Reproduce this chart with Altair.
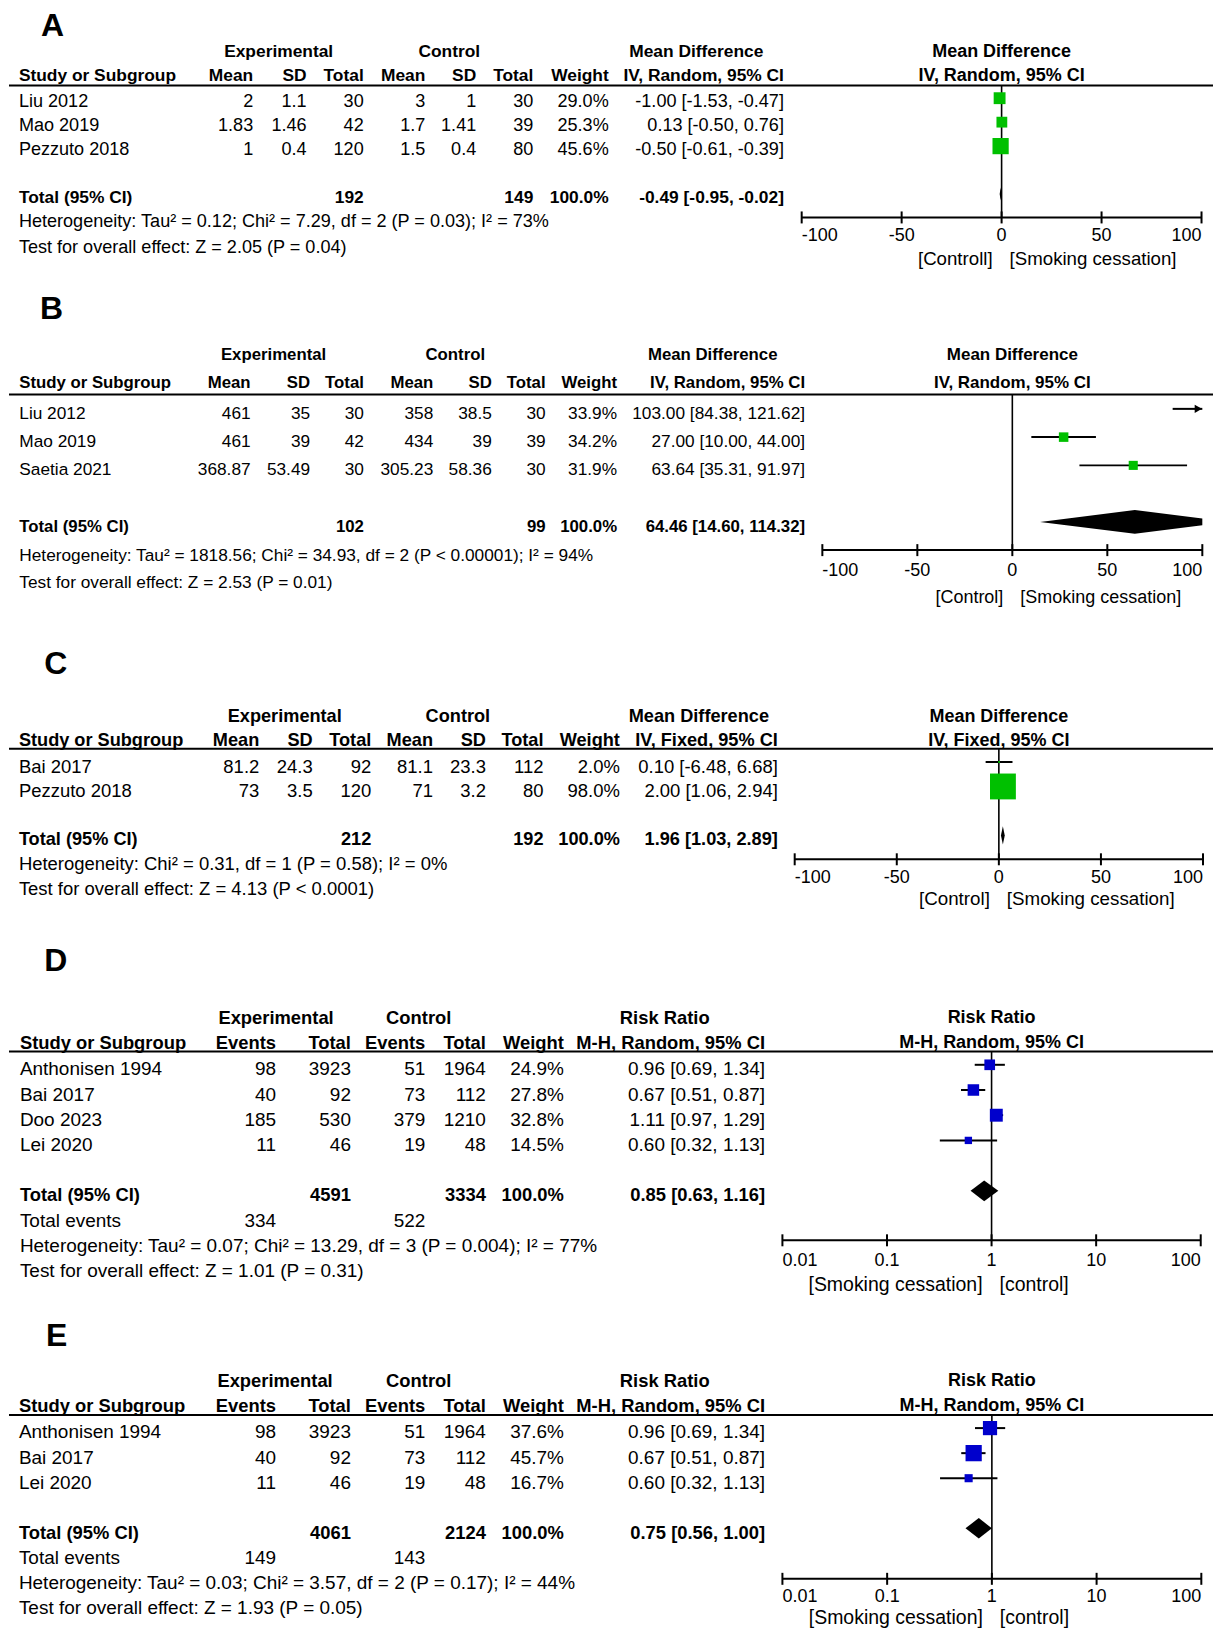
import altair as alt
import pandas as pd

W = 1206
SANS = "Liberation Sans, Arial, Helvetica, sans-serif"
GREEN = "#00C000"
BLUE = "#0000CC"

# ---------------- axis ticks ----------------
md_ticks = [-100, -50, 0, 50, 100]
md_labels = ["-100", "-50", "0", "50", "100"]
rr_ticks = [0.01, 0.1, 1, 10, 100]
rr_labels = ["0.01", "0.1", "1", "10", "100"]

# ---------------- panel A ----------------
a_study = ["Liu 2012", "Mao 2019", "Pezzuto 2018"]
a_exp_mean = [2, 1.83, 1]
a_exp_sd = [1.1, 1.46, 0.4]
a_exp_n = [30, 42, 120]
a_ctl_mean = [3, 1.7, 1.5]
a_ctl_sd = [1, 1.41, 0.4]
a_ctl_n = [30, 39, 80]
a_weight = [29.0, 25.3, 45.6]
a_est = [-1.00, 0.13, -0.50]
a_lo = [-1.53, -0.50, -0.61]
a_hi = [-0.47, 0.76, -0.39]
a_total_n = [192, 149]
a_total_ci = [-0.49, -0.95, -0.02]
a_het = "Heterogeneity: Tau\u00b2 = 0.12; Chi\u00b2 = 7.29, df = 2 (P = 0.03); I\u00b2 = 73%"
a_test = "Test for overall effect: Z = 2.05 (P = 0.04)"
a_subs = ["[Controll]", "[Smoking cessation]"]

# ---------------- panel B ----------------
b_study = ["Liu 2012", "Mao 2019", "Saetia 2021"]
b_exp_mean = [461, 461, 368.87]
b_exp_sd = [35, 39, 53.49]
b_exp_n = [30, 42, 30]
b_ctl_mean = [358, 434, 305.23]
b_ctl_sd = [38.5, 39, 58.36]
b_ctl_n = [30, 39, 30]
b_weight = [33.9, 34.2, 31.9]
b_est = [103.00, 27.00, 63.64]
b_lo = [84.38, 10.00, 35.31]
b_hi = [121.62, 44.00, 91.97]
b_total_n = [102, 99]
b_total_ci = [64.46, 14.60, 114.32]
b_het = "Heterogeneity: Tau\u00b2 = 1818.56; Chi\u00b2 = 34.93, df = 2 (P < 0.00001); I\u00b2 = 94%"
b_test = "Test for overall effect: Z = 2.53 (P = 0.01)"
b_subs = ["[Control]", "[Smoking cessation]"]

# ---------------- panel C ----------------
c_study = ["Bai 2017", "Pezzuto 2018"]
c_exp_mean = [81.2, 73]
c_exp_sd = [24.3, 3.5]
c_exp_n = [92, 120]
c_ctl_mean = [81.1, 71]
c_ctl_sd = [23.3, 3.2]
c_ctl_n = [112, 80]
c_weight = [2.0, 98.0]
c_est = [0.10, 2.00]
c_lo = [-6.48, 1.06]
c_hi = [6.68, 2.94]
c_total_n = [212, 192]
c_total_ci = [1.96, 1.03, 2.89]
c_het = "Heterogeneity: Chi\u00b2 = 0.31, df = 1 (P = 0.58); I\u00b2 = 0%"
c_test = "Test for overall effect: Z = 4.13 (P < 0.0001)"
c_subs = ["[Control]", "[Smoking cessation]"]

# ---------------- panel D ----------------
d_study = ["Anthonisen 1994", "Bai 2017", "Doo 2023", "Lei 2020"]
d_exp_events = [98, 40, 185, 11]
d_exp_n = [3923, 92, 530, 46]
d_ctl_events = [51, 73, 379, 19]
d_ctl_n = [1964, 112, 1210, 48]
d_weight = [24.9, 27.8, 32.8, 14.5]
d_est = [0.96, 0.67, 1.11, 0.60]
d_lo = [0.69, 0.51, 0.97, 0.32]
d_hi = [1.34, 0.87, 1.29, 1.13]
d_total_n = [4591, 3334]
d_total_events = [334, 522]
d_total_ci = [0.85, 0.63, 1.16]
d_het = "Heterogeneity: Tau\u00b2 = 0.07; Chi\u00b2 = 13.29, df = 3 (P = 0.004); I\u00b2 = 77%"
d_test = "Test for overall effect: Z = 1.01 (P = 0.31)"
d_subs = ["[Smoking cessation]", "[control]"]

# ---------------- panel E ----------------
e_study = ["Anthonisen 1994", "Bai 2017", "Lei 2020"]
e_exp_events = [98, 40, 11]
e_exp_n = [3923, 92, 46]
e_ctl_events = [51, 73, 19]
e_ctl_n = [1964, 112, 48]
e_weight = [37.6, 45.7, 16.7]
e_est = [0.96, 0.67, 0.60]
e_lo = [0.69, 0.51, 0.32]
e_hi = [1.34, 0.87, 1.13]
e_total_n = [4061, 2124]
e_total_events = [149, 143]
e_total_ci = [0.75, 0.56, 1.00]
e_het = "Heterogeneity: Tau\u00b2 = 0.03; Chi\u00b2 = 3.57, df = 2 (P = 0.17); I\u00b2 = 44%"
e_test = "Test for overall effect: Z = 1.93 (P = 0.05)"
e_subs = ["[Smoking cessation]", "[control]"]


def ci_text(e, l, h):
    return f"{e:.2f} [{l:.2f}, {h:.2f}]"


def T(entries, x, align, bold, size, ysc, baseline="middle"):
    df = pd.DataFrame(entries, columns=["row", "label"])
    df["label"] = df["label"].astype(str)
    return alt.Chart(df).mark_text(
        align=align, baseline=baseline, font=SANS, fontSize=size,
        fontWeight="bold" if bold else "normal", color="black"
    ).encode(x=alt.value(x), y=alt.Y("row:Q", scale=ysc, axis=None), text="label:N")


def build(letter, kind, study, cols, weight, est, lo, hi, tot_ci, het, test,
          effect_head, method_head, subs, color, lay):
    n = len(study)
    ysc = alt.Scale(domain=[lay["r_top"], lay["r_bot"]], range=[0, lay["H"]],
                    nice=False, zero=False)
    if kind == "md":
        ticks, tlabels, null = md_ticks, md_labels, 0
        xsc = alt.Scale(type="linear", domain=[ticks[0], ticks[-1]], range=lay["xr"],
                        nice=False, zero=False)
    else:
        ticks, tlabels, null = rr_ticks, rr_labels, 1
        xsc = alt.Scale(type="log", domain=[ticks[0], ticks[-1]], range=lay["xr"], nice=False)
    dmin, dmax = ticks[0], ticks[-1]
    fn, fb, fh = lay["fn"], lay["fb"], lay["fh"]
    r_tot = lay["r_total"]
    h1, h2 = lay["r_h"]
    Y = alt.Y("row:Q", scale=ysc, axis=None)

    def XS(f):
        return alt.X(f, scale=xsc, axis=None)

    L = []
    # panel letter
    L.append(T([(lay["r_letter"], letter)], lay["x_letter"], "left", True, 32, ysc,
               baseline="top"))
    # header rule
    L.append(alt.Chart(pd.DataFrame({"row": [lay["r_line"]]})).mark_rule(
        color="black", strokeWidth=2).encode(x=alt.value(0), x2=alt.value(W), y=Y))
    # group headings
    L.append(T([(h1, "Experimental")], lay["x_exp"], "center", True, fb, ysc))
    L.append(T([(h1, "Control")], lay["x_ctl"], "center", True, fb, ysc))
    L.append(T([(h1, effect_head)], lay["x_eff"], "center", True, fb, ysc))
    # study column
    left_norm = [(i, s) for i, s in enumerate(study)]
    if lay.get("r_te") is not None:
        left_norm.append((lay["r_te"], "Total events"))
    left_norm += [(lay["r_het"], het), (lay["r_test"], test)]
    L.append(T(left_norm, lay["x_study"], "left", False, fn, ysc))
    L.append(T([(h2, "Study or Subgroup"), (r_tot, "Total (95% CI)")],
               lay["x_study"], "left", True, fb, ysc))
    # numeric columns
    for (head, vals, tot, te), x in zip(cols, lay["cols_x"]):
        norm = [(i, str(v)) for i, v in enumerate(vals)]
        if te is not None:
            norm.append((lay["r_te"], str(te)))
        bold = [(h2, head)]
        if tot is not None:
            bold.append((r_tot, str(tot)))
        L.append(T(norm, x, "right", False, fn, ysc))
        L.append(T(bold, x, "right", True, fb, ysc))

    # ---------- forest plot ----------
    yo = lay["yoff"]
    fdf = pd.DataFrame({"row": list(range(n)), "est": est, "lo": lo, "hi": hi, "w": weight})
    # line of no effect
    L.append(alt.Chart(pd.DataFrame({"xv": [null], "r1": [lay["r_line"]], "r2": [lay["r_axis"]]}))
             .mark_rule(color="black", strokeWidth=1.6)
             .encode(x=XS("xv:Q"), y=alt.Y("r1:Q", scale=ysc, axis=None), y2="r2:Q"))
    # confidence intervals (clipped to the axis)
    L.append(alt.Chart(fdf).transform_calculate(
        lo_c=f"max(datum.lo, {dmin})", hi_c=f"min(datum.hi, {dmax})"
    ).mark_rule(color="black", strokeWidth=2, yOffset=yo).encode(
        x=XS("lo_c:Q"), x2="hi_c:Q", y=Y))
    # arrow for intervals beyond the axis
    L.append(alt.Chart(fdf).transform_filter(f"datum.hi > {dmax}").transform_calculate(
        tip=f"{dmax}"
    ).mark_point(shape="triangle-right", filled=True, color="black", opacity=1, size=70,
                 yOffset=yo, xOffset=-4).encode(x=XS("tip:Q"), y=Y))
    # squares
    L.append(alt.Chart(fdf).transform_filter(
        f"datum.est >= {dmin} && datum.est <= {dmax}"
    ).mark_square(color=color, opacity=1, yOffset=yo, strokeWidth=0).encode(
        x=XS("est:Q"), y=Y,
        size=alt.Size("w:Q", scale=alt.Scale(type="pow", exponent=1.38, domain=[0, 100],
                                             range=[0, lay["smax"]]), legend=None)))
    # pooled diamond
    e, l, h = tot_ci
    hh = lay["dh"]
    pts = [(l, r_tot, r_tot), (e, r_tot - hh, r_tot + hh)]
    if h > dmax:
        f = (h - dmax) / (h - e)
        pts.append((dmax, r_tot - hh * f, r_tot + hh * f))
    else:
        pts.append((h, r_tot, r_tot))
    ddf = pd.DataFrame(pts, columns=["xv", "y1", "y2"])
    L.append(alt.Chart(ddf).mark_area(color="black", opacity=1, yOffset=yo, y2Offset=yo,
                                      orient="vertical").encode(
        x=XS("xv:Q"), y=alt.Y("y1:Q", scale=ysc, axis=None), y2="y2:Q"))
    # axis line + ticks
    L.append(alt.Chart(pd.DataFrame({"a": [dmin], "b": [dmax], "row": [lay["r_axis"]]}))
             .mark_rule(color="black", strokeWidth=2).encode(x=XS("a:Q"), x2="b:Q", y=Y))
    k = len(ticks)
    tdf = pd.DataFrame({"t": ticks, "r1": [lay["r_axis"]] * k, "r2": [lay["r_axis"]] * k,
                        "row": [lay["r_tl"]] * k, "label": tlabels})
    L.append(alt.Chart(tdf).mark_rule(color="black", strokeWidth=2, yOffset=-6, y2Offset=6)
             .encode(x=XS("t:Q"), y=alt.Y("r1:Q", scale=ysc, axis=None), y2="r2:Q"))
    for sub, al in ((tdf.iloc[[0]], "left"), (tdf.iloc[1:-1], "center"), (tdf.iloc[[-1]], "right")):
        L.append(alt.Chart(sub.reset_index(drop=True)).mark_text(
            align=al, baseline="middle", font=SANS, fontSize=lay["ft"], color="black"
        ).encode(x=XS("t:Q"), y=Y, text="label:N"))
    # favours labels
    sdf = pd.DataFrame({"xv": [null], "row": [lay["r_sub"]], "l": [subs[0]], "r": [subs[1]]})
    L.append(alt.Chart(sdf).mark_text(align="right", baseline="middle", font=SANS,
                                      fontSize=lay["fsub"], color="black", dx=-9)
             .encode(x=XS("xv:Q"), y=Y, text="l:N"))
    L.append(alt.Chart(sdf).mark_text(align="left", baseline="middle", font=SANS,
                                      fontSize=lay["fsub"], color="black", dx=8)
             .encode(x=XS("xv:Q"), y=Y, text="r:N"))
    # forest headings
    hdf = pd.DataFrame({"xv": [null, null], "row": [h1, h2], "label": [effect_head, method_head]})
    L.append(alt.Chart(hdf).mark_text(align="center", baseline="middle", font=SANS,
                                      fontSize=fh, fontWeight="bold", color="black")
             .encode(x=XS("xv:Q"), y=Y, text="label:N"))

    return alt.layer(*L).properties(width=W, height=lay["H"])


def md_cols(exp_mean, exp_sd, exp_n, ctl_mean, ctl_sd, ctl_n, weight, est, lo, hi,
            total_n, total_ci, method):
    return [
        ("Mean", exp_mean, None, None),
        ("SD", exp_sd, None, None),
        ("Total", exp_n, total_n[0], None),
        ("Mean", ctl_mean, None, None),
        ("SD", ctl_sd, None, None),
        ("Total", ctl_n, total_n[1], None),
        ("Weight", [f"{w:.1f}%" for w in weight], "100.0%", None),
        (method, [ci_text(a, b, c) for a, b, c in zip(est, lo, hi)], ci_text(*total_ci), None),
    ]


def rr_cols(exp_ev, exp_n, ctl_ev, ctl_n, weight, est, lo, hi, total_n, total_ev, total_ci,
            method):
    return [
        ("Events", exp_ev, None, total_ev[0]),
        ("Total", exp_n, total_n[0], None),
        ("Events", ctl_ev, None, total_ev[1]),
        ("Total", ctl_n, total_n[1], None),
        ("Weight", [f"{w:.1f}%" for w in weight], "100.0%", None),
        (method, [ci_text(a, b, c) for a, b, c in zip(est, lo, hi)], ci_text(*total_ci), None),
    ]


lay_a = dict(H=272, r_top=-3.8333, r_bot=7.5, r_letter=-3.792, x_letter=32, r_line=-0.70,
             r_h=(-2.08, -1.08),
             r_total=4, r_het=5, r_test=6.08, r_axis=4.81, r_tl=5.59, r_sub=6.53,
             x_study=9.9, cols_x=[244.6, 298.1, 355.3, 417, 468, 525.2, 600.7, 776.2],
             x_exp=270.1, x_ctl=441, x_eff=688.4, xr=[794, 1194.5],
             fn=18.1, fb=17.4, fh=18, ft=18, fsub=18.7,
             yoff=-4, smax=780, dh=0.27)
lay_b = dict(H=345, r_top=-4.664, r_bot=7.527, r_letter=-4.233, x_letter=31, r_line=-0.68,
             r_h=(-2.07, -1.07),
             r_total=4, r_het=5.05, r_test=6, r_axis=4.83, r_tl=5.56, r_sub=6.54,
             x_study=10.3, cols_x=[242, 301.6, 355.5, 425, 483.6, 537.5, 609.1, 797.4],
             x_exp=265, x_ctl=447, x_eff=704.9, xr=[814.7, 1195.3],
             fn=17.3, fb=16.8, fh=17, ft=18, fsub=18,
             yoff=-4.8, smax=400, dh=0.42)
lay_c = dict(H=305, r_top=-5.735, r_bot=6.714, r_letter=-4.808, x_letter=35.4, r_line=-0.727,
             r_h=(-2.04, -1.04),
             r_total=3, r_het=4, r_test=5, r_axis=3.79, r_tl=4.54, r_sub=5.42,
             x_study=9.9, cols_x=[250.7, 304.2, 362.9, 424.7, 477.7, 535.4, 611.9, 770.1],
             x_exp=276.2, x_ctl=449.6, x_eff=691, xr=[787, 1196],
             fn=18.5, fb=18.2, fh=18, ft=18, fsub=18.8,
             yoff=-4.6, smax=690, dh=0.37)
lay_d = dict(H=370, r_top=-5.497, r_bot=9.156, r_letter=-4.875, x_letter=35.4, r_line=-0.705,
             r_h=(-2.04, -1.04),
             r_total=5, r_te=6, r_het=7, r_test=8, r_axis=6.78, r_tl=7.62, r_sub=8.54,
             x_study=10.9, cols_x=[267.5, 342.5, 417, 477.7, 555.8, 757.3],
             x_exp=267.5, x_ctl=410.4, x_eff=656.8, xr=[774.7, 1193.7],
             fn=19.0, fb=18.4, fh=18, ft=18, fsub=19.5,
             yoff=-4.6, smax=780, dh=0.41)
lay_e = dict(H=328, r_top=-5.279, r_bot=7.789, r_letter=-4.454, x_letter=37, r_line=-0.70,
             r_h=(-2.06, -1.04),
             r_total=4, r_te=5, r_het=6, r_test=7, r_axis=5.84, r_tl=6.57, r_sub=7.41,
             x_study=9.9, cols_x=[267.5, 342.5, 417, 477.7, 555.8, 757.3],
             x_exp=266.5, x_ctl=410.4, x_eff=656.8, xr=[774.7, 1194.3],
             fn=19.0, fb=18.4, fh=18, ft=18, fsub=19.5,
             yoff=-4.4, smax=780, dh=0.41)

pa = build("A", "md", a_study,
           md_cols(a_exp_mean, a_exp_sd, a_exp_n, a_ctl_mean, a_ctl_sd, a_ctl_n, a_weight,
                   a_est, a_lo, a_hi, a_total_n, a_total_ci, "IV, Random, 95% CI"),
           a_weight, a_est, a_lo, a_hi, a_total_ci, a_het, a_test,
           "Mean Difference", "IV, Random, 95% CI", a_subs, GREEN, lay_a)
pb = build("B", "md", b_study,
           md_cols(b_exp_mean, b_exp_sd, b_exp_n, b_ctl_mean, b_ctl_sd, b_ctl_n, b_weight,
                   b_est, b_lo, b_hi, b_total_n, b_total_ci, "IV, Random, 95% CI"),
           b_weight, b_est, b_lo, b_hi, b_total_ci, b_het, b_test,
           "Mean Difference", "IV, Random, 95% CI", b_subs, GREEN, lay_b)
pc = build("C", "md", c_study,
           md_cols(c_exp_mean, c_exp_sd, c_exp_n, c_ctl_mean, c_ctl_sd, c_ctl_n, c_weight,
                   c_est, c_lo, c_hi, c_total_n, c_total_ci, "IV, Fixed, 95% CI"),
           c_weight, c_est, c_lo, c_hi, c_total_ci, c_het, c_test,
           "Mean Difference", "IV, Fixed, 95% CI", c_subs, GREEN, lay_c)
pd_ = build("D", "rr", d_study,
            rr_cols(d_exp_events, d_exp_n, d_ctl_events, d_ctl_n, d_weight, d_est, d_lo, d_hi,
                    d_total_n, d_total_events, d_total_ci, "M-H, Random, 95% CI"),
            d_weight, d_est, d_lo, d_hi, d_total_ci, d_het, d_test,
            "Risk Ratio", "M-H, Random, 95% CI", d_subs, BLUE, lay_d)
pe = build("E", "rr", e_study,
           rr_cols(e_exp_events, e_exp_n, e_ctl_events, e_ctl_n, e_weight, e_est, e_lo, e_hi,
                   e_total_n, e_total_events, e_total_ci, "M-H, Random, 95% CI"),
           e_weight, e_est, e_lo, e_hi, e_total_ci, e_het, e_test,
           "Risk Ratio", "M-H, Random, 95% CI", e_subs, BLUE, lay_e)

chart = alt.vconcat(pa, pb, pc, pd_, pe, spacing=0, bounds="flush").resolve_scale(
    x="independent", y="independent", size="independent"
).configure_view(stroke=None).properties(padding=0, background="white")

chart.save("out.html", embed_options={"renderer": "svg", "actions": False})
